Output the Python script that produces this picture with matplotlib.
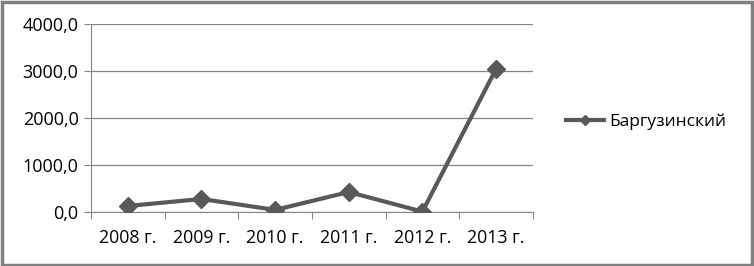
import matplotlib.pyplot as plt
from matplotlib.patches import Rectangle

# Data
years = ['2008 г.', '2009 г.', '2010 г.', '2011 г.', '2012 г.', '2013 г.']
values = [128, 277, 45, 425, 8, 3043]
series_name = 'Баргузинский'

plt.rcParams['font.family'] = ['Open Sans', 'DejaVu Sans']

fig = plt.figure(figsize=(7.54, 2.66), dpi=100)
ax = fig.add_axes([0.1207, 0.203, 0.586, 0.707])

xs = [i + 0.5 for i in range(len(years))]
ax.plot(xs, values, color='#595959', linewidth=3, marker='D', markersize=9,
        label=series_name, zorder=3)

ax.set_xlim(0, len(years))
ax.set_ylim(0, 4000)
ax.set_yticks([0, 1000, 2000, 3000, 4000])
ax.set_yticklabels(['0,0', '1000,0', '2000,0', '3000,0', '4000,0'], fontsize=13)
ax.set_xticks(range(len(years) + 1))
ax.set_xticklabels([])
ax.set_xticks(xs, minor=True)
ax.set_xticklabels(years, minor=True, fontsize=12.8)
ax.tick_params(axis='x', which='minor', length=0, pad=12)
ax.tick_params(axis='x', which='major', length=5, color='#868686')
ax.tick_params(axis='y', length=5, color='#868686', pad=4)

ax.grid(axis='y', color='#868686', linewidth=0.9)
ax.set_axisbelow(True)
for s in ['top', 'right']:
    ax.spines[s].set_visible(False)
ax.spines['left'].set_color('#868686')
ax.spines['bottom'].set_color('#868686')

ax.legend(loc='center left', bbox_to_anchor=(1.04, 0.48), frameon=False,
          fontsize=12.5, handlelength=2.2, handletextpad=0.3, markerscale=0.6)

# figure border
fig.patches.append(Rectangle((0.002, 0.004), 0.996, 0.99, transform=fig.transFigure,
                             fill=False, edgecolor='#808080', linewidth=2.5))

fig.savefig('out.png', dpi=100)
